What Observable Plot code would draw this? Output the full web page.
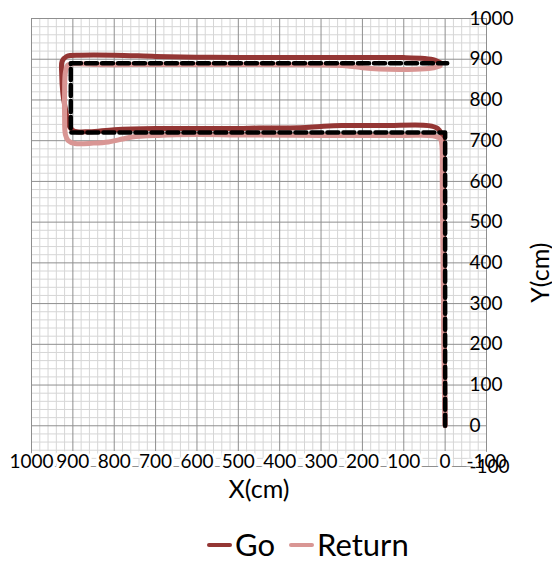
<!DOCTYPE html>
<html>
<head>
<meta charset="utf-8">
<script src="https://cdn.jsdelivr.net/npm/d3@7"></script>
<script src="https://cdn.jsdelivr.net/npm/@observablehq/plot@0.6"></script>
<style>
  html, body { margin: 0; padding: 0; background: #fff; }
  #chart { width: 552px; }
  .legend { display: flex; align-items: center; height: 37px; line-height: 37px; padding-left: 207px; font-family: Lato, "Open Sans", sans-serif; font-size: 31px; color: #000; overflow: visible; }
  .sw { display: inline-block; width: 25px; height: 4px; border-radius: 2px; margin-right: 3px; }
  .item { display: flex; align-items: center; margin-right: 14px; line-height: 37px; }
</style>
</head>
<body>
<div id="chart"></div>
<script>
// ---- data ----
const xTicks = [1000, 900, 800, 700, 600, 500, 400, 300, 200, 100, 0, -100];
const yTicks = [1000, 900, 800, 700, 600, 500, 400, 300, 200, 100, 0, -100];

// planned path (dashed)
const idealPath = [[0, 0], [0, 720], [905, 720], [905, 890], [-5, 890]];

// "Go" measured path
const goPath = [
  [0, 0], [1, 100], [2, 200], [3, 300], [3, 400], [4, 500], [4, 600], [5, 690],
  [8, 715], [18, 730], [40, 737], [150, 737], [250, 737], [300, 735], [350, 732],
  [450, 731], [500, 730], [600, 730], [700, 730], [800, 727], [860, 722], [898, 724],
  [910, 738], [916, 767], [924, 815], [927, 865], [926, 895], [915, 907], [880, 910],
  [800, 910], [700, 907], [600, 905], [500, 904], [300, 904], [100, 904], [50, 902],
  [25, 898], [11, 891]
];

// "Return" measured path
const returnPath = [
  [12, 884], [40, 877], [100, 875], [160, 876], [200, 879], [240, 884], [300, 886],
  [500, 887], [700, 887], [850, 887], [895, 889], [912, 886], [918, 868], [920, 820],
  [920, 760], [918, 715], [911, 700], [895, 693], [850, 694], [814, 697], [780, 704],
  [757, 709], [693, 713], [600, 715], [500, 714], [300, 713], [100, 713], [30, 712],
  [12, 705], [8, 690], [7, 600], [6, 500], [5, 400], [4, 300], [3, 200], [2, 100], [0, 0]
];

const goColor = "#943634";
const returnColor = "#D99694";
const font = "Lato, 'Open Sans', sans-serif";

const minorX = d3.range(-100, 1001, 20);
const minorY = d3.range(-100, 1001, 20);

const chart = Plot.plot({
  width: 552,
  height: 526,
  marginLeft: 31,
  marginRight: 66,
  marginTop: 18,
  marginBottom: 60,
  x: {domain: [1000, -100], axis: null},
  y: {domain: [-100, 1000], axis: null},
  style: {fontFamily: font, background: "#fff", overflow: "visible"},
  marks: [
    Plot.ruleX(minorX.filter(d => d % 100 !== 0), {stroke: "#d6d6d6", strokeWidth: 1}),
    Plot.ruleY(minorY.filter(d => d % 100 !== 0), {stroke: "#d6d6d6", strokeWidth: 1}),
    Plot.ruleX(xTicks, {stroke: "#8f8f8f", strokeWidth: 1}),
    Plot.ruleY(yTicks, {stroke: "#8f8f8f", strokeWidth: 1}),
    Plot.frame({stroke: "#8f8f8f"}),
    Plot.line(goPath, {x: d => d[0], y: d => d[1], stroke: goColor, strokeWidth: 5, curve: "catmull-rom", strokeLinejoin: "round", strokeLinecap: "round"}),
    Plot.line(returnPath, {x: d => d[0], y: d => d[1], stroke: returnColor, strokeWidth: 5, curve: "catmull-rom", strokeLinejoin: "round", strokeLinecap: "round"}),
    Plot.line(idealPath, {x: d => d[0], y: d => d[1], stroke: "#000", strokeWidth: 4.5, strokeDasharray: "11,5"}),
    Plot.text(xTicks, {x: d => d, y: -100, text: d => String(d), lineAnchor: "top", dy: -12, fontSize: 19, fill: "#000", stroke: "#fff", strokeWidth: 6}),
    Plot.text(yTicks, {y: d => d, frameAnchor: "right", dx: -17, textAnchor: "start", text: d => String(d), fontSize: 19, fill: "#000"}),
    Plot.text(["X(cm)"], {frameAnchor: "bottom", dy: 31, text: d => d, fontSize: 25, fill: "#000"}),
    Plot.text(["Y(cm)"], {frameAnchor: "right", dx: 54, rotate: -90, text: d => d, fontSize: 25, fill: "#000"})
  ]
});
document.getElementById("chart").appendChild(chart);

const legend = document.createElement("div");
legend.className = "legend";
[["Go", goColor], ["Return", returnColor]].forEach(([name, color]) => {
  const it = document.createElement("span");
  it.className = "item";
  const sw = document.createElement("span");
  sw.className = "sw";
  sw.style.background = color;
  const t = document.createElement("span");
  t.textContent = name;
  it.appendChild(sw);
  it.appendChild(t);
  legend.appendChild(it);
});
document.getElementById("chart").appendChild(legend);
</script>
</body>
</html>
